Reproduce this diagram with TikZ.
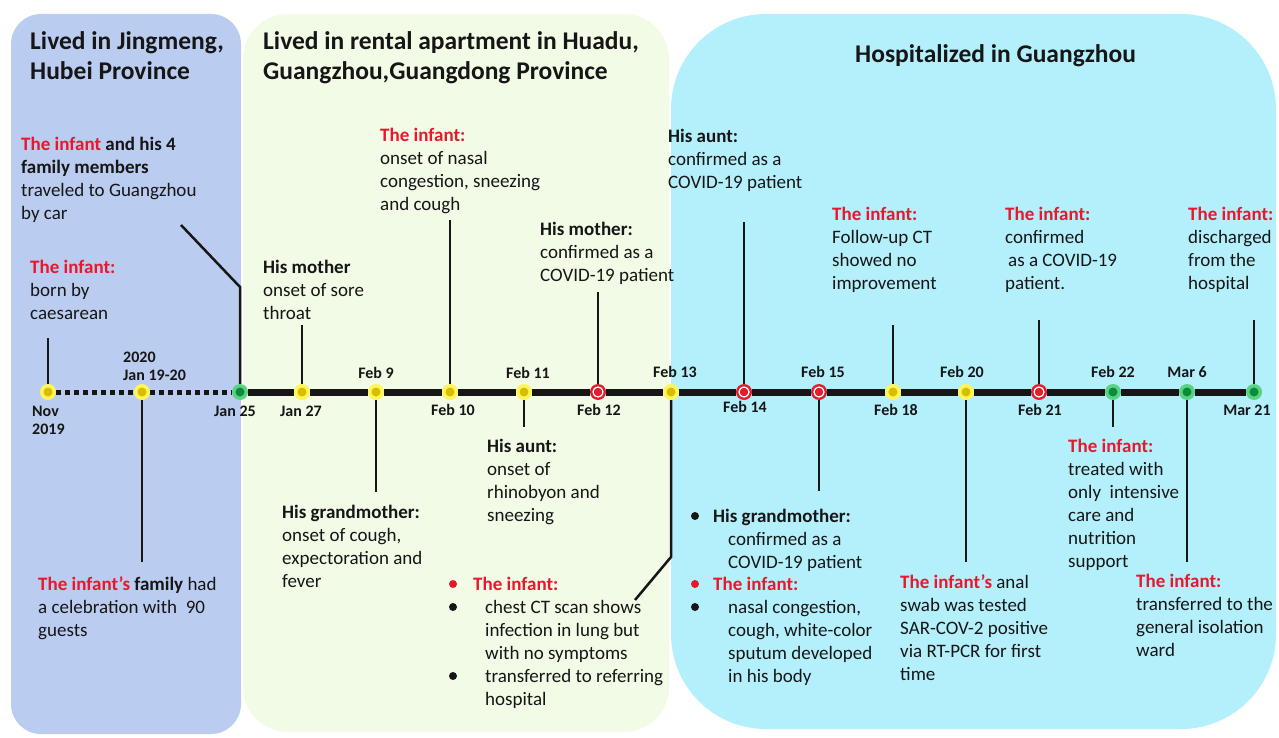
\documentclass[tikz,border=0pt]{standalone}
\usepackage{fontspec}
\setmainfont{Carlito}
\definecolor{pblue}{RGB}{186,204,240}
\definecolor{pgreen}{RGB}{241,251,230}
\definecolor{pcyan}{RGB}{180,240,252}
\definecolor{infred}{RGB}{232,24,44}
\definecolor{txt}{RGB}{22,22,22}
\definecolor{yhalo}{RGB}{255,245,90}
\definecolor{ycore}{RGB}{215,190,0}
\definecolor{ghalo}{RGB}{90,210,130}
\definecolor{gcore}{RGB}{10,140,60}
\definecolor{rcore}{RGB}{225,30,45}
\newcommand\rd[1]{\textcolor{infred}{\textbf{#1}}}
\tikzset{
  body/.style={font=\fontsize{19}{23}\selectfont, align=left, inner sep=0pt, anchor=base west, text=txt},
  ttl/.style={font=\fontsize{25.5}{30}\selectfont\bfseries, align=left, inner sep=0pt, anchor=base west, text=txt},
  dlab/.style={font=\fontsize{16}{18}\selectfont\bfseries, inner sep=0pt, anchor=base, text=txt},
  dlabl/.style={font=\fontsize{16}{18}\selectfont\bfseries, align=left, inner sep=0pt, anchor=base west, text=txt},
  conn/.style={line width=2.5pt, draw=txt},
  ymark/.style={circle, minimum size=16pt, inner sep=0pt, fill=yhalo,
    path picture={\fill[ycore] (path picture bounding box.center) circle (4.5pt);}},
  gmark/.style={circle, minimum size=16pt, inner sep=0pt, fill=ghalo,
    path picture={\fill[gcore] (path picture bounding box.center) circle (4.5pt);}},
  rmark/.style={circle, minimum size=16pt, inner sep=0pt, fill=rcore,
    path picture={\draw[white, line width=1.3pt] (path picture bounding box.center) circle (5pt);
                  \fill[rcore] (path picture bounding box.center) circle (4pt);}},
  bul/.style={fill=txt},
  rbul/.style={fill=infred}
}
\begin{document}
\begin{tikzpicture}[x=1pt,y=-1pt]
\useasboundingbox (0,0) rectangle (1279,738);
\fill[white] (0,0) rectangle (1279,738);
% panels
\fill[pblue, rounded corners=30pt] (11,14) rectangle (241,734);
\fill[pgreen, rounded corners=45pt] (243,14) rectangle (669,732);
\fill[pcyan, rounded corners=95pt] (671,14) rectangle (1276,729);
% titles (base = last line)
\node[ttl] (t1) at (30,80) {Lived in Jingmeng,\\Hubei Province};
\node[ttl] (t2) at (263,80) {Lived in rental apartment in Huadu,\\Guangzhou,Guangdong Province};
\node[ttl] (t3) at (855,63) {Hospitalized in Guangzhou};
% markers
\node[ymark] (mNov) at (48,392) {};
\node[ymark] (mJan19) at (142,392) {};
\node[gmark] (mJan25) at (240,392) {};
\node[ymark] (mJan27) at (302,392) {};
\node[ymark] (mFeb9) at (376,392) {};
\node[ymark] (mFeb10) at (450,392) {};
\node[ymark] (mFeb11) at (524,392) {};
\node[rmark] (mFeb12) at (598,392) {};
\node[ymark] (mFeb13) at (671,392) {};
\node[rmark] (mFeb14) at (744,392) {};
\node[rmark] (mFeb15) at (819,392) {};
\node[ymark] (mFeb18) at (893,392) {};
\node[ymark] (mFeb20) at (966,392) {};
\node[rmark] (mFeb21) at (1039,392) {};
\node[gmark] (mFeb22) at (1113,392) {};
\node[gmark] (mMar6) at (1187,392) {};
\node[gmark] (mMar21) at (1254,392) {};
% timeline
\draw[txt, line width=5pt, dash pattern=on 4.5pt off 4.5pt] (mNov) -- (mJan19);
\draw[txt, line width=5pt, dash pattern=on 4.5pt off 4.5pt] (mJan19) -- (mJan25);
\draw[txt, line width=7pt] (mJan25) -- (mJan27) -- (mFeb9) -- (mFeb10) -- (mFeb11) -- (mFeb12) -- (mFeb13) -- (mFeb14) -- (mFeb15) -- (mFeb18) -- (mFeb20) -- (mFeb21) -- (mFeb22) -- (mMar6) -- (mMar21);
% connector ends
\coordinate (eNov) at (48,338);
\coordinate (eJan19) at (142,562);
\coordinate (kJan25) at (240,287);
\coordinate (eJan25) at (181,225);
\coordinate (eJan27) at (302,325);
\coordinate (eFeb9) at (376,492);
\coordinate (eFeb10) at (450,220);
\coordinate (eFeb11) at (524,427);
\coordinate (eFeb12) at (598,292);
\coordinate (kFeb13) at (671,557);
\coordinate (eFeb13) at (635,600);
\coordinate (eFeb14) at (744,222);
\coordinate (eFeb15) at (819,491);
\coordinate (eFeb18) at (893,325);
\coordinate (eFeb20) at (966,562);
\coordinate (eFeb21) at (1039,320);
\coordinate (eFeb22) at (1113,427);
\coordinate (eMar6) at (1187,562);
\coordinate (eMar21) at (1254,320);
\draw[conn] (mNov) -- (eNov);
\draw[conn] (mJan19) -- (eJan19);
\draw[conn] (mJan25) -- (kJan25) -- (eJan25);
\draw[conn] (mJan27) -- (eJan27);
\draw[conn] (mFeb9) -- (eFeb9);
\draw[conn] (mFeb10) -- (eFeb10);
\draw[conn] (mFeb11) -- (eFeb11);
\draw[conn] (mFeb12) -- (eFeb12);
\draw[conn] (mFeb13) -- (kFeb13) -- (eFeb13);
\draw[conn] (mFeb14) -- (eFeb14);
\draw[conn] (mFeb15) -- (eFeb15);
\draw[conn] (mFeb18) -- (eFeb18);
\draw[conn] (mFeb20) -- (eFeb20);
\draw[conn] (mFeb21) -- (eFeb21);
\draw[conn] (mFeb22) -- (eFeb22);
\draw[conn] (mMar6) -- (eMar6);
\draw[conn] (mMar21) -- (eMar21);
% date labels
\node[dlabl] (dNov) at (32,434) {Nov\\2019};
\node[dlabl] (dJan19) at (123,380) {2020\\Jan 19-20};
\node[dlab] (dJan25) at (235,416) {Jan 25};
\node[dlab] (dJan27) at (301,416) {Jan 27};
\node[dlab] (dFeb9) at (376,378) {Feb 9};
\node[dlab] (dFeb10) at (453,415) {Feb 10};
\node[dlab] (dFeb11) at (528,378) {Feb 11};
\node[dlab] (dFeb12) at (599,415) {Feb 12};
\node[dlab] (dFeb13) at (675,377) {Feb 13};
\node[dlab] (dFeb14) at (745,412) {Feb 14};
\node[dlab] (dFeb15) at (823,377) {Feb 15};
\node[dlab] (dFeb18) at (896,415) {Feb 18};
\node[dlab] (dFeb20) at (962,377) {Feb 20};
\node[dlab] (dFeb21) at (1040,415) {Feb 21};
\node[dlab] (dFeb22) at (1113,377) {Feb 22};
\node[dlab] (dMar6) at (1187,377) {Mar 6};
\node[dlab] (dMar21) at (1247,415) {Mar 21};
% event texts (base = baseline of last line)
\node[body] (xNov) at (30,319) {\rd{The infant:}\\born by\\caesarean};
\node[body] (xJan25) at (21,219) {\rd{The infant} \textbf{and his 4}\\\textbf{family members}\\traveled to Guangzhou\\by car};
\node[body] (xJan19) at (38,636) {\rd{The infant's} \textbf{family} had\\a celebration with\ \ 90\\guests};
\node[body] (xJan27) at (263,319) {\textbf{His mother}\\onset of sore\\throat};
\node[body] (xFeb9) at (282,587) {\textbf{His grandmother:}\\onset of cough,\\expectoration and\\fever};
\node[body] (xFeb10) at (380,211) {\rd{The infant:}\\onset of nasal\\congestion, sneezing\\and cough};
\node[body] (xFeb11) at (487,521) {\textbf{His aunt:}\\onset of\\rhinobyon and\\sneezing};
\node[body] (xFeb12) at (540,281) {\textbf{His mother:}\\confirmed as a\\COVID-19 patient};
\node[body] (xFeb13h) at (473,590) {\rd{The infant:}};
\node[body] (xFeb13) at (485,705) {chest CT scan shows\\infection in lung but\\with no symptoms\\transferred to referring\\hospital};
\fill[rbul] (453,584) circle (4pt);
\fill[bul] (453,607) circle (4pt);
\fill[bul] (453,676) circle (4pt);
\node[body] (xFeb14) at (668,189) {\textbf{His aunt:}\\confirmed as a\\COVID-19 patient};
\node[body] (xFeb15h) at (713,522) {\textbf{His grandmother:}};
\node[body] (xFeb15a) at (728,568) {confirmed as a\\COVID-19 patient};
\node[body] (xFeb15i) at (713,590) {\rd{The infant:}};
\node[body] (xFeb15b) at (728,682) {nasal congestion,\\cough, white-color\\sputum developed\\in his body};
\fill[bul] (695,516) circle (4pt);
\fill[rbul] (695,584) circle (4pt);
\fill[bul] (695,607) circle (4pt);
\node[body] (xFeb18) at (832,289) {\rd{The infant:}\\Follow-up CT\\showed no\\improvement};
\node[body] (xFeb20) at (900,680) {\rd{The infant's} anal\\swab was tested\\SAR-COV-2 positive\\via RT-PCR for first\\time};
\node[body] (xFeb21) at (1005,289) {\rd{The infant:}\\confirmed\\\hspace{3pt}as a COVID-19\\patient.};
\node[body] (xFeb22) at (1068,567) {\rd{The infant:}\\treated with\\only\ \ intensive\\care and\\nutrition\\support};
\node[body] (xMar6) at (1136,656) {\rd{The infant:}\\transferred to the\\general isolation\\ward};
\node[body] (xMar21) at (1188,289) {\rd{The infant:}\\discharged\\from the\\hospital};
\end{tikzpicture}
\end{document}
